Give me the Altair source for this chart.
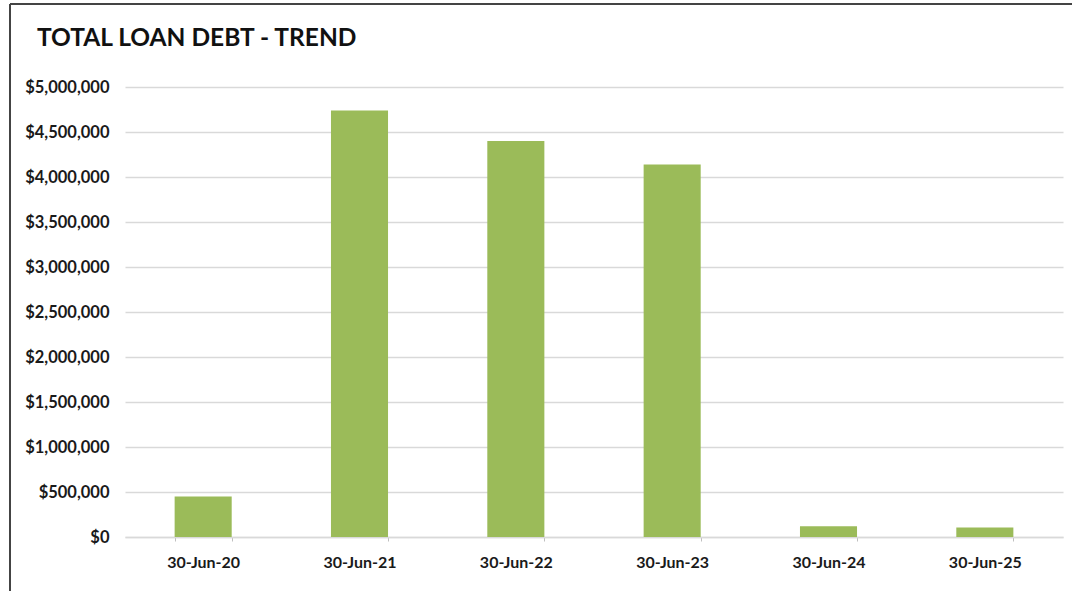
import altair as alt
import pandas as pd

dates = ["30-Jun-20", "30-Jun-21", "30-Jun-22", "30-Jun-23", "30-Jun-24", "30-Jun-25"]
debt = [450000, 4740000, 4400000, 4140000, 120000, 105000]
y_ticks = [0, 500000, 1000000, 1500000, 2000000, 2500000, 3000000, 3500000, 4000000, 4500000, 5000000]
title_text = "TOTAL LOAN DEBT - TREND"

df = pd.DataFrame({"date": dates, "debt": debt})
FONT = "Lato"

bars = alt.Chart(df).mark_bar(color="#9BBB59").encode(
    x=alt.X("date:N", sort=dates, title=None,
            scale=alt.Scale(paddingInner=0.635, paddingOuter=0.3175),
            axis=alt.Axis(labelAngle=0, tickBand="extent", tickSize=4, ticks=True,
                          tickColor="#BFBFBF", domainColor="#D9D9D9", domainWidth=1.5,
                          labelPadding=13, labelFont=FONT, labelFontSize=16,
                          labelFontWeight="bold", labelColor="#1a1a1a", grid=False)),
    y=alt.Y("debt:Q", title=None,
            scale=alt.Scale(domain=[0, 5000000], nice=False),
            axis=alt.Axis(values=y_ticks, format="$,.0f", domain=False, ticks=False,
                          labelPadding=16, labelFont=FONT, labelFontSize=16.5,
                          labelFontWeight="bold", labelColor="#1a1a1a",
                          grid=True, gridColor="#D9D9D9", gridWidth=1.5)),
)

one = alt.Data(values=[{"t": title_text}])

title = alt.Chart(one).mark_text(
    align="left", baseline="alphabetic", font=FONT, fontSize=24.5,
    fontWeight="bold", color="#111111"
).encode(text="t:N", x=alt.value(-88), y=alt.value(-41))

left_border = alt.Chart(one).mark_rule(color="#444444", strokeWidth=2).encode(
    x=alt.value(-115), y=alt.value(-83), y2=alt.value(520))
top_border = alt.Chart(one).mark_rule(color="#444444", strokeWidth=2).encode(
    x=alt.value(-115), x2=alt.value(960), y=alt.value(-83))

chart = alt.layer(bars, title, left_border, top_border).properties(
    width=938, height=450,
    autosize=alt.AutoSizeParams(type="none"),
    padding={"left": 125, "top": 87, "right": 9, "bottom": 54},
    background="white",
).configure_view(stroke=None)

chart.save("out.html", embed_options={"renderer": "svg", "actions": False})
